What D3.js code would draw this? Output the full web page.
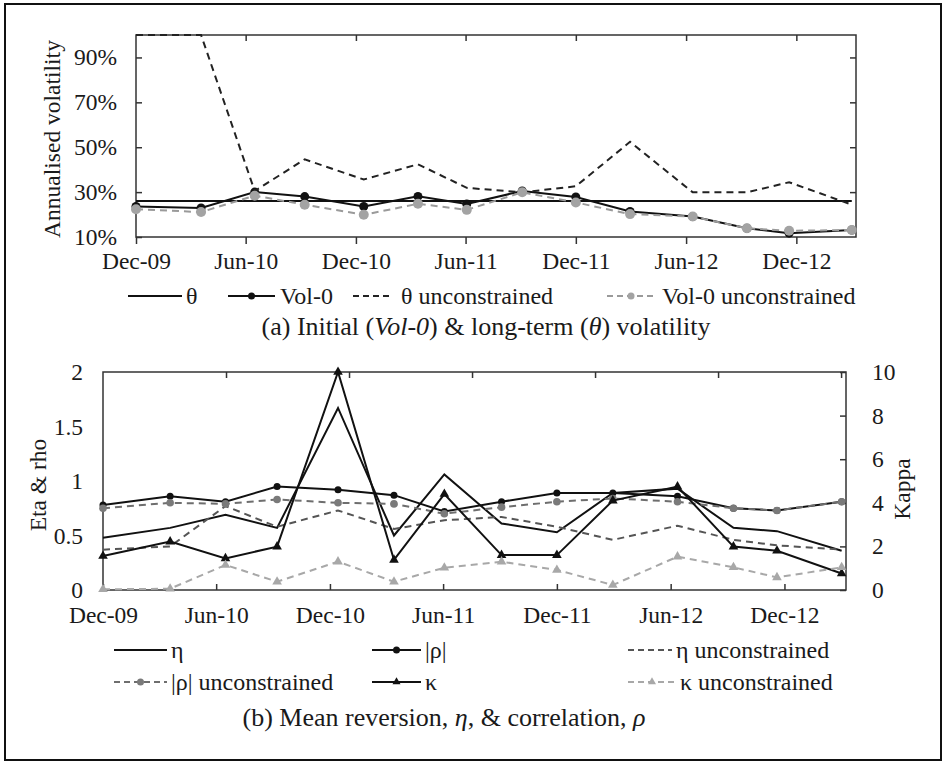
<!DOCTYPE html>
<html>
<head>
<meta charset="utf-8">
<script src="https://cdn.jsdelivr.net/npm/d3@7"></script>
<style>
  body { margin: 0; background: #fff; }
  svg text { font-family: "Liberation Serif", "Times New Roman", serif; fill: #1a1a1a; }
</style>
</head>
<body>
<svg id="fig" width="945" height="762"></svg>
<script>
const parse = d3.timeParse('%Y-%m-%d');

// calibration dates
const dates = ['2009-12-01', '2010-03-19', '2010-06-16', '2010-09-07', '2010-12-14', '2011-03-14', '2011-06-03',
  '2011-09-03', '2011-12-01', '2012-02-29', '2012-06-12', '2012-09-10', '2012-11-19', '2013-03-03'].map(parse);
const tickDates = ['2009-12-01', '2010-06-01', '2010-12-01', '2011-06-01', '2011-12-01', '2012-06-01', '2012-12-01'].map(parse);
const tickLabels = ['Dec-09', 'Jun-10', 'Dec-10', 'Jun-11', 'Dec-11', 'Jun-12', 'Dec-12'];

// (a) volatility
const theta    = [0.26, 0.26, 0.26, 0.26, 0.26, 0.26, 0.26, 0.26, 0.26, 0.26, 0.26, 0.26, 0.26, 0.26];
const vol0     = [0.236, 0.229, 0.300, 0.280, 0.236, 0.281, 0.247, 0.305, 0.278, 0.214, 0.191, 0.139, 0.117, 0.131];
const thetaUnc = [1.00, 1.00, 0.305, 0.446, 0.356, 0.424, 0.319, 0.299, 0.326, 0.524, 0.299, 0.299, 0.344, 0.244];
const vol0Unc  = [0.224, 0.211, 0.284, 0.244, 0.199, 0.248, 0.221, 0.299, 0.254, 0.202, 0.191, 0.139, 0.128, 0.131];
const volTicks = [0.1, 0.3, 0.5, 0.7, 0.9];

// (b) mean reversion, eta & correlation
const eta      = [0.48, 0.57, 0.69, 0.57, 1.67, 0.50, 1.06, 0.61, 0.53, 0.89, 0.93, 0.57, 0.54, 0.36];
const rho      = [0.78, 0.86, 0.81, 0.95, 0.92, 0.87, 0.72, 0.81, 0.89, 0.89, 0.86, 0.75, 0.73, 0.81];
const etaUnc   = [0.37, 0.40, 0.77, 0.58, 0.73, 0.56, 0.64, 0.67, 0.58, 0.46, 0.59, 0.46, 0.41, 0.37];
const rhoUnc   = [0.75, 0.80, 0.79, 0.83, 0.80, 0.79, 0.70, 0.76, 0.81, 0.84, 0.81, 0.75, 0.73, 0.81];
const kappa    = [1.56, 2.22, 1.45, 1.99, 10.0, 1.38, 4.40, 1.60, 1.60, 4.10, 4.74, 1.99, 1.80, 0.76];
const kappaUnc = [0.03, 0.06, 1.15, 0.38, 1.30, 0.38, 1.02, 1.30, 0.92, 0.23, 1.53, 1.04, 0.58, 1.04];
const leftTicks  = [0, 0.5, 1, 1.5, 2];
const rightTicks = [0, 2, 4, 6, 8, 10];

const svg = d3.select('#fig');
const fs = 23.5;     // ticks and axis titles
const fsLeg = 24;    // legend
const fsCap = 26;    // captions
const axisCol = '#333';

svg.append('rect')
  .attr('x', 5).attr('y', 4).attr('width', 936).attr('height', 756)
  .attr('fill', 'none').attr('stroke', '#111').attr('stroke-width', 2);

const dateDomain = [parse('2009-12-01'), parse('2013-03-10')];

function styleAxis(g) {
  g.select('.domain').remove();
  g.selectAll('line').attr('stroke', axisCol).attr('stroke-width', 1.5);
  g.selectAll('text').attr('font-size', fs).attr('fill', '#1a1a1a')
    .style('font-family', '"Liberation Serif", "Times New Roman", serif');
}

function drawSeries(g, x, y, values, opt) {
  const line = d3.line().x((d, i) => x(dates[i])).y(d => y(d));
  g.append('path')
    .datum(values)
    .attr('fill', 'none')
    .attr('stroke', opt.color)
    .attr('stroke-width', opt.width || 2)
    .attr('stroke-dasharray', opt.dash ? '7,5' : null)
    .attr('d', line);
  if (opt.marker === 'circle') {
    g.selectAll(null).data(values).enter().append('circle')
      .attr('cx', (d, i) => x(dates[i]))
      .attr('cy', d => y(d))
      .attr('r', opt.r)
      .attr('fill', opt.mcolor || opt.color);
  } else if (opt.marker === 'triangle') {
    g.selectAll(null).data(values).enter().append('path')
      .attr('transform', (d, i) => 'translate(' + x(dates[i]) + ',' + y(d) + ')')
      .attr('d', d3.symbol(d3.symbolTriangle).size(opt.size || 40)())
      .attr('fill', opt.mcolor || opt.color);
  }
}

function legendItem(g, x0, yy, label, opt) {
  const w = opt.w || 52;
  g.append('line')
    .attr('x1', x0).attr('x2', x0 + w).attr('y1', yy).attr('y2', yy)
    .attr('stroke', opt.color).attr('stroke-width', 2)
    .attr('stroke-dasharray', opt.dash ? '6,4' : null);
  if (opt.marker === 'circle') {
    g.append('circle').attr('cx', x0 + w / 2).attr('cy', yy).attr('r', 3.5).attr('fill', opt.mcolor || opt.color);
  } else if (opt.marker === 'triangle') {
    g.append('path').attr('transform', 'translate(' + (x0 + w / 2) + ',' + yy + ')')
      .attr('d', d3.symbol(d3.symbolTriangle).size(28)()).attr('fill', opt.mcolor || opt.color);
  }
  g.append('text').attr('x', x0 + w + (opt.gap || 4)).attr('y', yy).attr('dy', '0.32em')
    .attr('font-size', fsLeg).text(label);
}

// ---------- (a) ----------
const A = { left: 136, right: 856, top: 35, bottom: 237 };
const xA = d3.scaleTime().domain(dateDomain).range([A.left, A.right]);
const yA = d3.scaleLinear().domain([0.1, 1.0]).range([A.bottom, A.top]);

const ga = svg.append('g');
ga.append('g').attr('transform', 'translate(0,' + A.bottom + ')')
  .call(d3.axisBottom(xA).tickValues(tickDates).tickSize(7).tickPadding(8)
    .tickFormat((d, i) => tickLabels[i]))
  .call(styleAxis);
ga.append('g').attr('transform', 'translate(0,' + A.top + ')')
  .call(d3.axisTop(xA).tickValues(tickDates.slice(1)).tickSize(-6).tickFormat(''))
  .call(styleAxis);
ga.append('g').attr('transform', 'translate(' + A.left + ',0)')
  .call(d3.axisLeft(yA).tickValues(volTicks).tickSize(-6).tickPadding(19)
    .tickFormat(d3.format('.0%')))
  .call(styleAxis);
ga.append('g').attr('transform', 'translate(' + A.right + ',0)')
  .call(d3.axisRight(yA).tickValues(volTicks.slice(1)).tickSize(-6).tickFormat(''))
  .call(styleAxis);
ga.append('rect')
  .attr('x', A.left).attr('y', A.top).attr('width', A.right - A.left).attr('height', A.bottom - A.top)
  .attr('fill', 'none').attr('stroke', axisCol).attr('stroke-width', 1.5);

drawSeries(ga, xA, yA, theta, { color: '#111' });
drawSeries(ga, xA, yA, vol0, { color: '#111', marker: 'circle', r: 4.5 });
drawSeries(ga, xA, yA, thetaUnc, { color: '#222', dash: true });
drawSeries(ga, xA, yA, vol0Unc, { color: '#9a9a9a', dash: true, marker: 'circle', r: 5, mcolor: '#a3a3a3' });

ga.append('text')
  .attr('transform', 'translate(52,' + ((A.top + A.bottom) / 2 + 3) + ') rotate(-90)')
  .attr('text-anchor', 'middle').attr('dy', '0.32em').attr('font-size', fs)
  .text('Annualised volatility');

const la = svg.append('g');
legendItem(la, 128, 296, 'θ', { color: '#111', w: 54 });
legendItem(la, 228, 296, 'Vol-0', { color: '#111', marker: 'circle', w: 47, gap: 5 });
legendItem(la, 353, 296, 'θ unconstrained', { color: '#222', dash: true, w: 40, gap: 8 });
legendItem(la, 607, 296, 'Vol-0 unconstrained', { color: '#9a9a9a', dash: true, marker: 'circle', mcolor: '#a3a3a3', w: 48, gap: 7 });

const capA = svg.append('text').attr('x', 486).attr('y', 327).attr('dy', '0.32em')
  .attr('text-anchor', 'middle').attr('font-size', fsCap);
capA.append('tspan').text('(a)  Initial (');
capA.append('tspan').attr('font-style', 'italic').text('Vol-0');
capA.append('tspan').text(') & long-term (');
capA.append('tspan').attr('font-style', 'italic').text('θ');
capA.append('tspan').text(') volatility');

// ---------- (b) ----------
const B = { left: 103, right: 846, top: 372, bottom: 590 };
const xB = d3.scaleTime().domain(dateDomain).range([B.left, B.right]);
const xB2 = d3.scaleLinear().domain([0, 6.04]).range([B.left, B.right]);
const yB = d3.scaleLinear().domain([0, 2]).range([B.bottom, B.top]);
const yK = d3.scaleLinear().domain([0, 10]).range([B.bottom, B.top]);

const gb = svg.append('g');
gb.append('g').attr('transform', 'translate(0,' + B.bottom + ')')
  .call(d3.axisBottom(xB).tickValues(tickDates).tickSize(-6).tickPadding(16)
    .tickFormat((d, i) => tickLabels[i]))
  .call(styleAxis);
gb.append('g').attr('transform', 'translate(0,' + B.top + ')')
  .call(d3.axisTop(xB2).tickValues([1, 2, 3, 4, 5, 6]).tickSize(-6).tickFormat(''))
  .call(styleAxis);
gb.append('g').attr('transform', 'translate(' + B.left + ',0)')
  .call(d3.axisLeft(yB).tickValues(leftTicks).tickSize(0).tickPadding(20)
    .tickFormat(d3.format('')))
  .call(styleAxis);
gb.append('g').attr('transform', 'translate(' + B.right + ',0)')
  .call(d3.axisRight(yK).tickValues(rightTicks).tickSize(-6).tickPadding(26)
    .tickFormat(d3.format('d')))
  .call(styleAxis);
gb.append('rect')
  .attr('x', B.left).attr('y', B.top).attr('width', B.right - B.left).attr('height', B.bottom - B.top)
  .attr('fill', 'none').attr('stroke', axisCol).attr('stroke-width', 1.5);

drawSeries(gb, xB, yB, eta, { color: '#111' });
drawSeries(gb, xB, yB, rho, { color: '#111', marker: 'circle', r: 3.5 });
drawSeries(gb, xB, yB, etaUnc, { color: '#555', dash: true });
drawSeries(gb, xB, yB, rhoUnc, { color: '#6e6e6e', dash: true, marker: 'circle', r: 3.8, mcolor: '#7a7a7a' });
drawSeries(gb, xB, yK, kappa, { color: '#111', marker: 'triangle', size: 40 });
drawSeries(gb, xB, yK, kappaUnc, { color: '#a8a8a8', dash: true, marker: 'triangle', size: 40, mcolor: '#a8a8a8' });

gb.append('text')
  .attr('transform', 'translate(38,' + ((B.top + B.bottom) / 2 + 4) + ') rotate(-90)')
  .attr('text-anchor', 'middle').attr('dy', '0.32em').attr('font-size', fs)
  .text('Eta & rho');
gb.append('text')
  .attr('transform', 'translate(902,' + ((B.top + B.bottom) / 2 + 8) + ') rotate(-90)')
  .attr('text-anchor', 'middle').attr('dy', '0.32em').attr('font-size', fs)
  .text('Kappa');

const lb = svg.append('g');
legendItem(lb, 114, 650, 'η', { color: '#111', w: 53 });
legendItem(lb, 372, 650, '|ρ|', { color: '#111', marker: 'circle', w: 49 });
legendItem(lb, 628, 650, 'η unconstrained', { color: '#555', dash: true, w: 44 });
legendItem(lb, 114, 682, '|ρ| unconstrained', { color: '#6e6e6e', dash: true, marker: 'circle', mcolor: '#7a7a7a', w: 53 });
legendItem(lb, 372, 682, 'κ', { color: '#111', marker: 'triangle', w: 49 });
legendItem(lb, 628, 682, 'κ unconstrained', { color: '#a8a8a8', dash: true, marker: 'triangle', w: 48 });

const capB = svg.append('text').attr('x', 444).attr('y', 718).attr('dy', '0.32em')
  .attr('text-anchor', 'middle').attr('font-size', fsCap);
capB.append('tspan').text('(b) Mean reversion, ');
capB.append('tspan').attr('font-style', 'italic').text('η');
capB.append('tspan').text(', & correlation, ');
capB.append('tspan').attr('font-style', 'italic').text('ρ');
</script>
</body>
</html>
